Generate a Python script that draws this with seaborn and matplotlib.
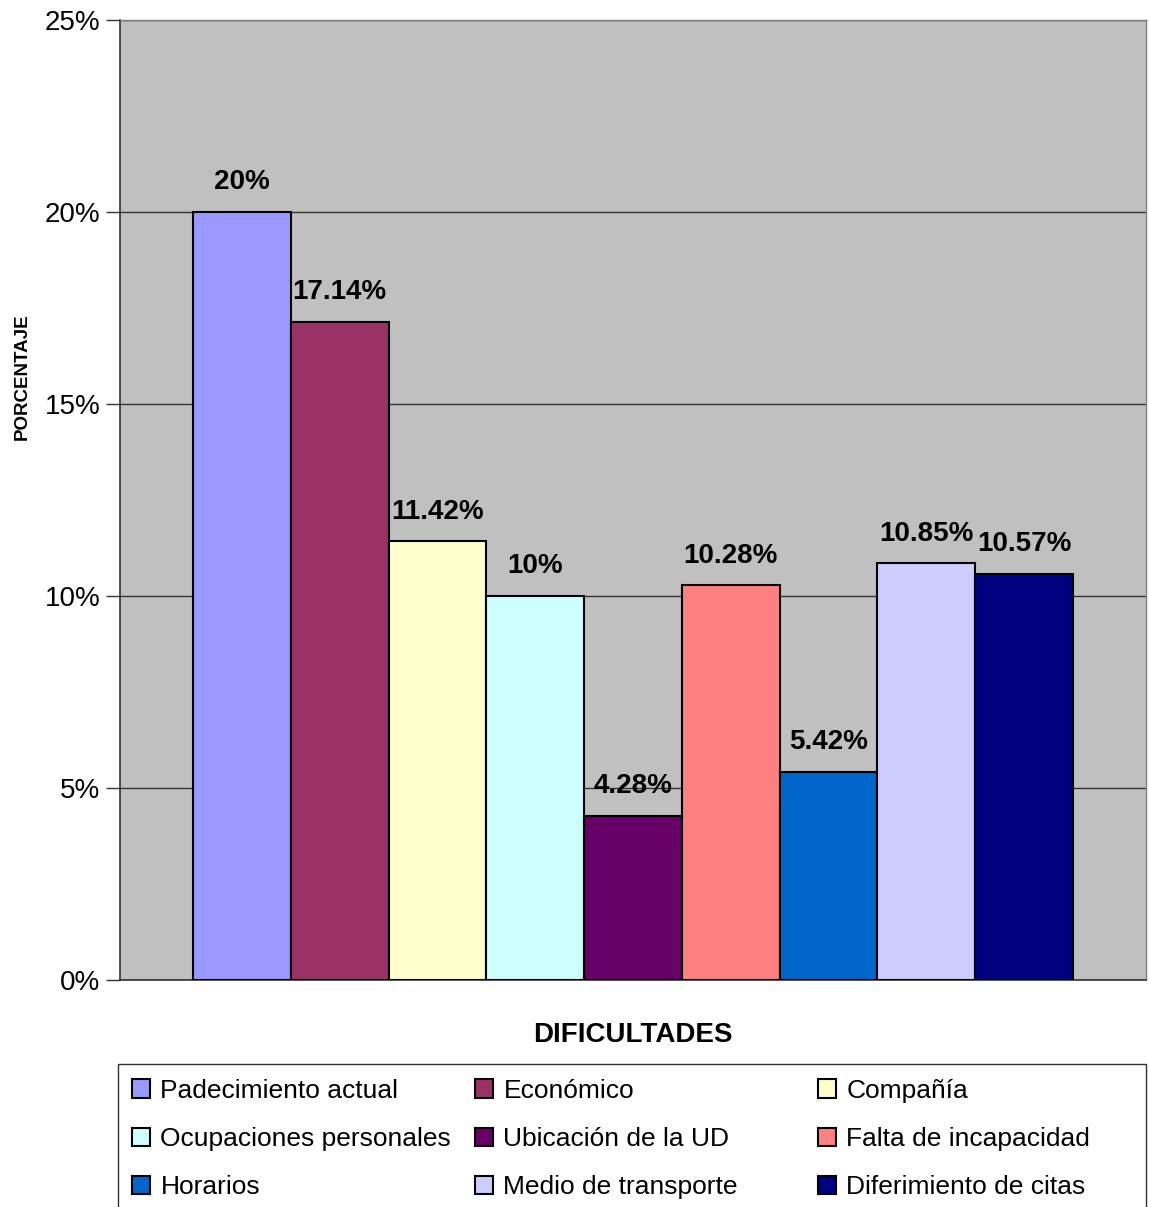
import matplotlib
matplotlib.use('Agg')
import matplotlib.pyplot as plt
import matplotlib.patches as mpatches
import seaborn as sns
from matplotlib.ticker import FuncFormatter

categorias = ['Padecimiento actual', 'Económico', 'Compañía', 'Ocupaciones personales',
              'Ubicación de la UD', 'Falta de incapacidad', 'Horarios', 'Medio de transporte',
              'Diferimiento de citas']
porcentajes = [20, 17.14, 11.42, 10, 4.28, 10.28, 5.42, 10.85, 10.57]
etiquetas = ['20%', '17.14%', '11.42%', '10%', '4.28%', '10.28%', '5.42%', '10.85%', '10.57%']
colores = ['#9999FF', '#993366', '#FFFFCC', '#CCFFFF', '#660066', '#FF8080', '#0066CC',
           '#CCCCFF', '#000080']

sns.set_style('white')
plt.rcParams['font.family'] = ['Liberation Sans', 'DejaVu Sans']
plt.rcParams['text.color'] = 'black'
plt.rcParams['axes.labelcolor'] = 'black'
plt.rcParams['ytick.color'] = 'black'

W, H = 1149, 1207
fig = plt.figure(figsize=(W / 100, H / 100), dpi=100)
ax = fig.add_axes([120 / W, 1 - 980 / H, 1026 / W, 960 / H])
ax.set_facecolor('#C0C0C0')

sns.barplot(x=categorias, y=porcentajes, hue=categorias, palette=colores, saturation=1,
            width=1, edgecolor='black', linewidth=1.5, legend=False, ax=ax, zorder=3)

ax.set_xlim(-1.246, 9.246)
ax.set_ylim(0, 25)
ax.set_yticks([0, 5, 10, 15, 20, 25])
ax.yaxis.set_major_formatter(FuncFormatter(lambda v, p: f'{v:.0f}%'))
ax.grid(axis='y', color='#333333', linewidth=1, zorder=0)
ax.set_axisbelow(True)
ax.set_xticks([])
ax.tick_params(axis='y', direction='out', length=10, width=1, color='#333333',
               labelsize=20, left=True, pad=4)

for s in ['top', 'right']:
    ax.spines[s].set_color('#808080')
    ax.spines[s].set_linewidth(1)
for s in ['left', 'bottom']:
    ax.spines[s].set_color('#333333')
    ax.spines[s].set_linewidth(1.2)

for cont, lab in zip(ax.containers, etiquetas):
    ax.bar_label(cont, labels=[lab], padding=12, fontsize=20, fontweight='bold')

ax.set_xlabel('DIFICULTADES', fontsize=20, fontweight='bold', labelpad=30)
fig.text(22 / W, 1 - 377 / H, 'PORCENTAJE', rotation=90, ha='center', va='center',
         fontsize=13.5, fontweight='bold')

# legend frame + three equal-width columns, filled row-wise like the original
fig.add_artist(mpatches.Rectangle((118 / W, -0.01), 1028 / W, 1 - 1064 / H + 0.01,
                                  transform=fig.transFigure, facecolor='white',
                                  edgecolor='#333333', linewidth=1, zorder=0))
col_x = [124, 467, 810]
for c in range(3):
    idx = [c, c + 3, c + 6]
    handles = [mpatches.Patch(facecolor=colores[i], edgecolor='black', linewidth=1.5)
               for i in idx]
    leg = fig.legend(handles, [categorias[i] for i in idx], loc='upper left',
                     bbox_to_anchor=(col_x[c] / W, 1 - 1071 / H), frameon=False,
                     fontsize=19, handlelength=0.7, handleheight=0.7, handletextpad=0.38,
                     labelspacing=0.92, borderpad=0.3, borderaxespad=0)

fig.savefig('out.png', dpi=100)
